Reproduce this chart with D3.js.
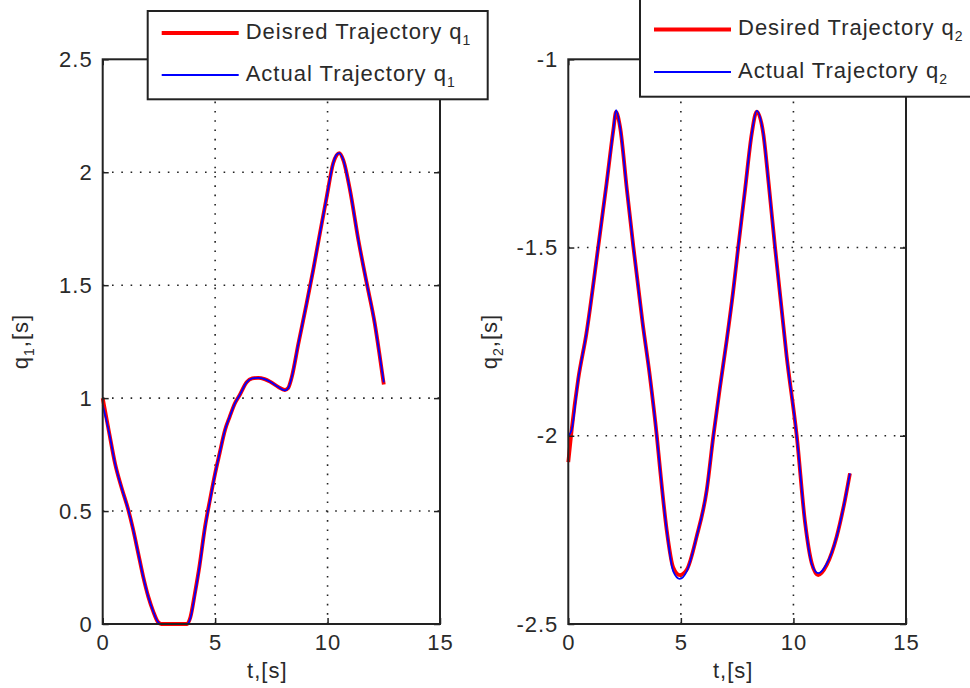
<!DOCTYPE html>
<html>
<head>
<meta charset="utf-8">
<script src="https://cdn.jsdelivr.net/npm/d3@7"></script>
<style>
  body { margin: 0; background: #fff; }
  svg { display: block; }
  text { font-family: "Liberation Sans", Arial, sans-serif; fill: #2a2a2a; }
</style>
</head>
<body>
<div id="chart"></div>
<script>
// values
var tQ1 = [0, 0.3, 0.55, 0.85, 1.14, 1.35, 1.58, 1.8, 2.03, 2.25, 2.45, 2.6, 3.0, 3.5, 3.75, 3.9, 4.1, 4.3, 4.55, 4.77, 5.0, 5.2, 5.44, 5.65, 5.88, 6.1, 6.4, 6.65, 6.92, 7.2, 7.44, 7.8, 8.1, 8.25, 8.4, 8.7, 9.07, 9.36, 9.66, 9.96, 10.25, 10.4, 10.52, 10.7, 11.0, 11.37, 11.74, 12.1, 12.3, 12.5];
var q1Desired = [1.0, 0.84, 0.71, 0.6, 0.505, 0.42, 0.313, 0.21, 0.12, 0.055, 0.01, 0, 0, 0, 0, 0.03, 0.136, 0.254, 0.43, 0.55, 0.667, 0.756, 0.859, 0.918, 0.977, 1.015, 1.07, 1.087, 1.09, 1.084, 1.073, 1.05, 1.036, 1.045, 1.09, 1.24, 1.42, 1.567, 1.73, 1.89, 2.04, 2.075, 2.085, 2.054, 1.92, 1.70, 1.51, 1.33, 1.2, 1.06];
var q1Actual  = [0.97, 0.84, 0.71, 0.6, 0.505, 0.42, 0.313, 0.21, 0.12, 0.055, 0.01, 0, 0, 0, 0, 0.025, 0.13, 0.25, 0.425, 0.545, 0.665, 0.756, 0.859, 0.918, 0.977, 1.015, 1.07, 1.087, 1.09, 1.084, 1.073, 1.05, 1.034, 1.045, 1.09, 1.24, 1.42, 1.567, 1.73, 1.89, 2.04, 2.078, 2.085, 2.054, 1.92, 1.70, 1.51, 1.33, 1.2, 1.07];

var tQ2 = [0, 0.15, 0.44, 0.8, 1.33, 1.7, 2.0, 2.12, 2.3, 2.6, 2.89, 3.3, 3.63, 3.93, 4.07, 4.37, 4.66, 4.95, 5.26, 5.7, 6.15, 6.44, 6.74, 7.04, 7.33, 7.55, 7.85, 8.15, 8.37, 8.66, 8.9, 9.18, 9.7, 10.15, 10.52, 10.81, 11.1, 11.48, 11.92, 12.29, 12.51];
var q2Desired = [-2.07, -1.984, -1.85, -1.73, -1.498, -1.33, -1.188, -1.14, -1.18, -1.345, -1.498, -1.7, -1.845, -2.0, -2.085, -2.25, -2.35, -2.37, -2.356, -2.268, -2.144, -2.002, -1.87, -1.745, -1.613, -1.498, -1.347, -1.197, -1.139, -1.197, -1.33, -1.498, -1.79, -2.002, -2.232, -2.338, -2.37, -2.343, -2.268, -2.17, -2.1];
var q2Actual  = [-2.0, -1.984, -1.85, -1.73, -1.498, -1.33, -1.188, -1.135, -1.18, -1.345, -1.498, -1.7, -1.845, -2.0, -2.085, -2.25, -2.36, -2.38, -2.36, -2.268, -2.144, -2.002, -1.87, -1.745, -1.613, -1.498, -1.347, -1.197, -1.137, -1.197, -1.33, -1.498, -1.79, -2.002, -2.232, -2.34, -2.365, -2.34, -2.268, -2.17, -2.1];

var xTicks = [0, 5, 10, 15];
var q1Ticks = [0, 0.5, 1, 1.5, 2, 2.5];
var q2Ticks = [-2.5, -2, -1.5, -1];

var svg = d3.select("#chart").append("svg")
    .attr("width", 970)
    .attr("height", 688);

function drawPanel(opt) {
    var x = d3.scaleLinear().domain([0, 15]).range([opt.left, opt.right]);
    var y = d3.scaleLinear().domain(opt.yDomain).range([624, 59.3]);
    var g = svg.append("g");

    // dotted grid
    g.selectAll(".vgrid").data(xTicks.slice(1, -1)).enter().append("line")
        .attr("x1", function(d) { return x(d); }).attr("x2", function(d) { return x(d); })
        .attr("y1", y.range()[0]).attr("y2", y.range()[1])
        .attr("stroke", "#222").attr("stroke-width", 1.6)
        .attr("stroke-dasharray", "1.6,7.7");
    g.selectAll(".hgrid").data(opt.yTicks.slice(1, -1)).enter().append("line")
        .attr("y1", function(d) { return y(d); }).attr("y2", function(d) { return y(d); })
        .attr("x1", opt.left).attr("x2", opt.right)
        .attr("stroke", "#222").attr("stroke-width", 1.6)
        .attr("stroke-dasharray", "1.6,7.7");

    var line = d3.line()
        .x(function(d) { return x(d[0]); })
        .y(function(d) { return y(d[1]); })
        .curve(d3.curveMonotoneX);

    g.append("path")
        .datum(d3.zip(opt.t, opt.desired))
        .attr("d", line).attr("fill", "none")
        .attr("stroke", "#ff0000").attr("stroke-width", 3.8);
    g.append("path")
        .datum(d3.zip(opt.t, opt.actual))
        .attr("d", line).attr("fill", "none")
        .attr("stroke", "#0000ff").attr("stroke-width", 1.8);

    // axes with inward ticks
    var axes = [
        [d3.axisBottom(x).tickValues(xTicks).tickFormat(d3.format("d")), "translate(0,624)"],
        [d3.axisTop(x).tickValues(xTicks).tickFormat(""), "translate(0,59.3)"],
        [d3.axisLeft(y).tickValues(opt.yTicks).tickFormat(function(d) { return String(d); }), "translate(" + opt.left + ",0)"],
        [d3.axisRight(y).tickValues(opt.yTicks).tickFormat(""), "translate(" + opt.right + ",0)"]
    ];
    axes.forEach(function(a) {
        var ax = g.append("g").attr("transform", a[1])
            .call(a[0].tickSizeInner(-6).tickSizeOuter(0).tickPadding(10));
        ax.select(".domain").remove();
        ax.selectAll("line").attr("stroke", "#222").attr("stroke-width", 1.5);
        ax.selectAll("text")
            .style("font-family", "'Liberation Sans', Arial, sans-serif")
            .style("font-size", "22px")
            .style("letter-spacing", "1px")
            .attr("fill", "#2a2a2a");
    });

    g.append("rect")
        .attr("x", opt.left).attr("y", 59.3)
        .attr("width", opt.right - opt.left).attr("height", 624 - 59.3)
        .attr("fill", "none").attr("stroke", "#222").attr("stroke-width", 2);

    // axis labels
    g.append("text")
        .attr("x", (opt.left + opt.right) / 2 - 4).attr("y", 678)
        .attr("text-anchor", "middle")
        .style("font-size", "22px").style("letter-spacing", "1px")
        .text("t,[s]");
    var yl = g.append("text")
        .attr("transform", "translate(" + opt.yLabelX + ",341.5) rotate(-90)")
        .attr("text-anchor", "middle")
        .style("font-size", "22px").style("letter-spacing", "1px");
    yl.append("tspan").text("q");
    yl.append("tspan").attr("dy", 6).style("font-size", "14px").text(opt.sub);
    yl.append("tspan").attr("dy", -6).text(",[s]");

    // legend
    var lg = g.append("g");
    lg.append("rect")
        .attr("x", opt.legX).attr("y", opt.legY)
        .attr("width", opt.legW).attr("height", opt.legH)
        .attr("fill", "#fff").attr("stroke", "#222").attr("stroke-width", 2);
    var items = [[opt.legText[0], "#ff0000", 3.8], [opt.legText[1], "#0000ff", 1.8]];
    items.forEach(function(it, i) {
        var ly = opt.legLines[i];
        lg.append("line")
            .attr("x1", opt.legX + 14).attr("x2", opt.legX + 91).attr("y1", ly).attr("y2", ly)
            .attr("stroke", it[1]).attr("stroke-width", it[2]);
        var tx = lg.append("text")
            .attr("x", opt.legX + 98).attr("y", ly + 5.5)
            .style("font-size", "22px").style("letter-spacing", "1px");
        tx.append("tspan").text(it[0]);
        tx.append("tspan").attr("dy", 6).style("font-size", "14px").text(opt.sub);
    });
}

drawPanel({
    left: 102.7, right: 440, yDomain: [0, 2.5], yTicks: q1Ticks,
    t: tQ1, desired: q1Desired, actual: q1Actual,
    sub: "1", yLabelX: 28,
    legX: 147.7, legY: 11, legW: 340, legH: 88.3, legLines: [33, 75],
    legText: ["Deisred Trajectory q", "Actual Trajectory q"]
});
drawPanel({
    left: 568.3, right: 906, yDomain: [-2.5, -1], yTicks: q2Ticks,
    t: tQ2, desired: q2Desired, actual: q2Actual,
    sub: "2", yLabelX: 497,
    legX: 640, legY: -2, legW: 350, legH: 98.7, legLines: [29.5, 72],
    legText: ["Desired Trajectory q", "Actual Trajectory q"]
});
</script>
</body>
</html>
